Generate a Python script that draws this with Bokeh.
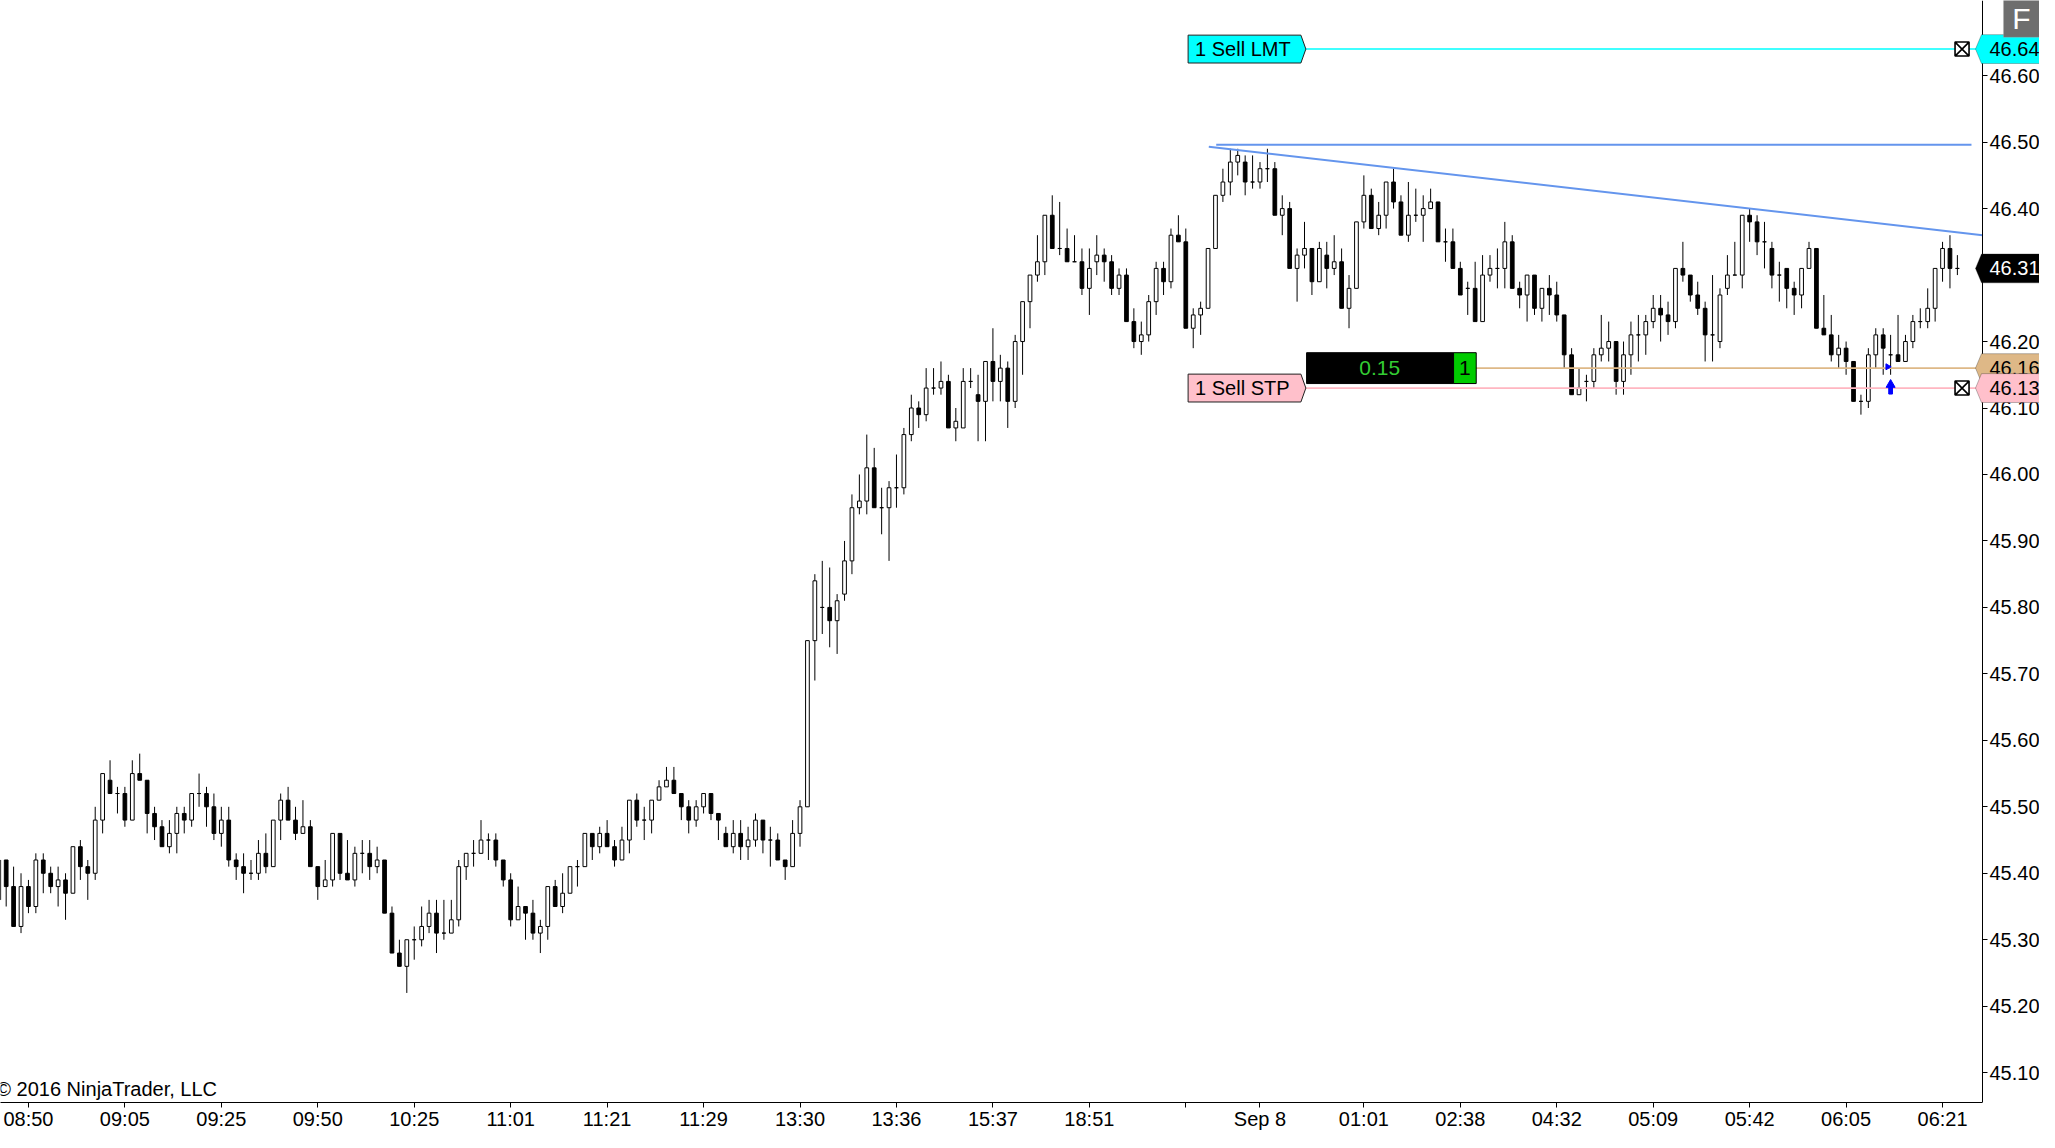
import math
from bokeh.plotting import figure
from bokeh.models import (Range1d, LinearAxis, FixedTicker, NumeralTickFormatter,
                          PolyAnnotation, Label, ColumnDataSource)
from bokeh.embed import file_html
from bokeh.resources import INLINE
from bokeh.core.properties import value

# ---------------- data ----------------
opens = [45.36,45.42,45.38,45.32,45.38,45.35,45.42,45.40,45.38,45.39,45.37,45.44,45.41,45.40,45.48,45.54,45.52,45.52,45.48,45.55,
         45.54,45.49,45.47,45.44,45.46,45.49,45.48,45.52,45.52,45.50,45.46,45.48,45.42,45.41,45.40,45.40,45.43,45.41,45.48,45.51,
         45.48,45.46,45.47,45.41,45.38,45.39,45.46,45.40,45.39,45.43,45.43,45.41,45.42,45.34,45.28,45.26,45.30,45.30,45.32,45.34,
         45.31,45.31,45.33,45.41,45.43,45.43,45.45,45.45,45.42,45.39,45.33,45.35,45.34,45.31,45.32,45.38,45.35,45.37,45.41,45.41,
         45.46,45.44,45.46,45.44,45.42,45.45,45.51,45.48,45.48,45.51,45.53,45.54,45.52,45.50,45.48,45.50,45.52,45.49,45.46,45.44,
         45.46,45.44,45.45,45.48,45.45,45.45,45.42,45.41,45.46,45.50,45.75,45.80,45.80,45.78,45.82,45.87,45.95,45.96,46.01,45.95,
         45.95,45.98,45.98,46.06,46.10,46.09,46.13,46.13,46.14,46.07,46.07,46.14,46.12,46.11,46.17,46.14,46.16,46.11,46.20,46.26,
         46.30,46.32,46.39,46.34,46.34,46.32,46.32,46.28,46.32,46.33,46.32,46.28,46.30,46.23,46.20,46.21,46.26,46.31,46.29,46.36,
         46.35,46.22,46.24,46.25,46.34,46.42,46.44,46.47,46.47,46.44,46.44,46.46,46.46,46.39,46.40,46.31,46.33,46.34,46.29,46.33,
         46.31,46.32,46.25,46.28,46.38,46.42,46.37,46.39,46.44,46.41,46.36,46.39,46.39,46.40,46.41,46.35,46.35,46.31,46.28,46.28,
         46.23,46.30,46.31,46.31,46.35,46.28,46.27,46.30,46.25,46.28,46.27,46.24,46.18,46.12,46.14,46.14,46.18,46.19,46.20,46.14,
         46.18,46.21,46.21,46.23,46.25,46.24,46.23,46.31,46.30,46.27,46.25,46.21,46.20,46.28,46.30,46.30,46.39,46.38,46.35,46.34,
         46.30,46.31,46.28,46.27,46.31,46.34,46.22,46.21,46.18,46.19,46.17,46.11,46.11,46.18,46.21,46.18,46.18,46.17,46.20,46.23,
         46.23,46.25,46.31,46.34,46.31]
highs = [45.43,45.42,45.41,45.40,45.39,45.43,45.43,45.41,45.41,45.40,45.44,45.45,45.42,45.50,45.55,45.57,45.53,45.53,45.57,45.58,
         45.54,45.50,45.48,45.48,45.50,45.50,45.52,45.55,45.53,45.52,45.50,45.50,45.43,45.43,45.42,45.45,45.46,45.48,45.52,45.53,
         45.50,45.51,45.48,45.41,45.42,45.46,45.46,45.45,45.44,45.45,45.45,45.44,45.42,45.35,45.30,45.30,45.32,45.35,45.36,45.36,
         45.36,45.36,45.42,45.43,45.45,45.48,45.46,45.46,45.42,45.40,45.38,45.35,45.36,45.33,45.38,45.39,45.40,45.41,45.42,45.46,
         45.46,45.47,45.48,45.45,45.47,45.51,45.52,45.50,45.51,45.54,45.56,45.56,45.52,45.51,45.51,45.52,45.52,45.49,45.47,45.48,
         45.48,45.47,45.49,45.48,45.47,45.46,45.42,45.48,45.51,45.75,45.85,45.87,45.86,45.82,45.90,45.97,46.00,46.06,46.04,45.98,
         45.99,46.03,46.07,46.12,46.11,46.16,46.16,46.17,46.15,46.10,46.16,46.16,46.15,46.17,46.22,46.18,46.17,46.21,46.26,46.30,
         46.36,46.39,46.42,46.41,46.37,46.36,46.34,46.34,46.36,46.34,46.33,46.31,46.31,46.25,46.23,46.27,46.32,46.32,46.37,46.39,
         46.37,46.25,46.26,46.34,46.42,46.46,46.49,46.49,46.48,46.48,46.47,46.49,46.47,46.42,46.41,46.34,46.38,46.34,46.35,46.35,
         46.36,46.34,46.30,46.38,46.45,46.43,46.41,46.44,46.46,46.42,46.44,46.43,46.42,46.43,46.41,46.37,46.37,46.32,46.29,46.32,
         46.33,46.33,46.34,46.38,46.36,46.29,46.30,46.30,46.28,46.30,46.29,46.24,46.19,46.16,46.15,46.19,46.24,46.23,46.20,46.20,
         46.23,46.24,46.24,46.27,46.27,46.26,46.31,46.35,46.30,46.29,46.26,46.30,46.28,46.33,46.35,46.39,46.40,46.39,46.38,46.35,
         46.32,46.31,46.29,46.31,46.35,46.34,46.27,46.24,46.21,46.20,46.17,46.12,46.19,46.22,46.22,46.21,46.24,46.21,46.24,46.25,
         46.28,46.31,46.35,46.36,46.33]
lows = [45.35,45.35,45.32,45.31,45.34,45.34,45.37,45.37,45.35,45.33,45.37,45.39,45.36,45.39,45.46,45.52,45.49,45.47,45.48,45.54,
        45.46,45.45,45.44,45.43,45.43,45.46,45.47,45.50,45.47,45.45,45.44,45.41,45.39,45.37,45.39,45.39,45.40,45.41,45.45,45.48,
        45.45,45.46,45.41,45.36,45.38,45.38,45.39,45.39,45.38,45.40,45.39,45.40,45.34,45.28,45.26,45.22,45.27,45.29,45.31,45.28,
        45.30,45.31,45.32,45.39,45.41,45.43,45.42,45.41,45.38,45.32,45.33,45.30,45.30,45.28,45.30,45.35,45.34,45.37,45.38,45.41,
        45.42,45.43,45.44,45.41,45.42,45.43,45.47,45.45,45.46,45.51,45.53,45.52,45.48,45.46,45.47,45.49,45.48,45.45,45.44,45.43,
        45.42,45.42,45.44,45.43,45.41,45.42,45.39,45.41,45.44,45.50,45.69,45.76,45.74,45.73,45.81,45.85,45.94,45.94,45.95,45.91,
        45.87,45.95,45.97,46.05,46.07,46.08,46.12,46.12,46.07,46.05,46.07,46.13,46.05,46.05,46.11,46.11,46.07,46.10,46.15,46.22,
        46.29,46.30,46.34,46.33,46.32,46.32,46.27,46.24,46.30,46.29,46.27,46.27,46.23,46.19,46.18,46.20,46.24,46.27,46.28,46.35,
        46.22,46.19,46.21,46.25,46.34,46.41,46.42,46.45,46.42,46.43,46.43,46.44,46.39,46.36,46.31,46.26,46.31,46.27,46.29,46.28,
        46.30,46.25,46.22,46.28,46.37,46.37,46.36,46.37,46.40,46.36,46.35,46.38,46.35,46.40,46.35,46.32,46.31,46.27,46.24,46.23,
        46.23,46.29,46.28,46.28,46.28,46.25,46.23,46.24,46.23,46.24,46.23,46.16,46.12,46.12,46.11,46.13,46.17,46.17,46.12,46.12,
        46.15,46.17,46.18,46.22,46.20,46.21,46.22,46.29,46.26,46.24,46.17,46.17,46.19,46.27,46.30,46.28,46.35,46.33,46.31,46.28,
        46.26,46.25,46.24,46.25,46.31,46.22,46.21,46.17,46.16,46.15,46.11,46.09,46.10,46.16,46.15,46.15,46.17,46.17,46.19,46.22,
        46.22,46.23,46.29,46.28,46.30]
closes = [45.42,45.38,45.32,45.38,45.35,45.42,45.40,45.38,45.39,45.37,45.44,45.41,45.40,45.48,45.55,45.52,45.52,45.48,45.55,45.54,
          45.49,45.47,45.44,45.46,45.49,45.48,45.52,45.52,45.50,45.46,45.48,45.42,45.41,45.40,45.40,45.43,45.41,45.48,45.51,45.48,
          45.46,45.47,45.41,45.38,45.39,45.46,45.40,45.39,45.43,45.43,45.41,45.42,45.34,45.28,45.26,45.30,45.30,45.32,45.34,45.31,
          45.31,45.33,45.41,45.43,45.43,45.45,45.45,45.42,45.39,45.33,45.35,45.34,45.31,45.32,45.38,45.35,45.37,45.41,45.41,45.46,
          45.44,45.46,45.44,45.42,45.45,45.51,45.48,45.48,45.51,45.53,45.54,45.52,45.50,45.48,45.50,45.52,45.49,45.48,45.44,45.46,
          45.44,45.45,45.48,45.45,45.45,45.42,45.41,45.46,45.50,45.75,45.84,45.80,45.78,45.81,45.87,45.95,45.96,46.01,45.95,45.95,
          45.98,45.98,46.06,46.10,46.09,46.13,46.13,46.14,46.07,46.08,46.14,46.14,46.11,46.17,46.14,46.16,46.11,46.20,46.26,46.30,
          46.32,46.39,46.34,46.34,46.32,46.32,46.28,46.31,46.33,46.32,46.28,46.30,46.23,46.20,46.21,46.26,46.31,46.29,46.36,46.35,
          46.22,46.24,46.25,46.34,46.42,46.44,46.47,46.48,46.44,46.44,46.46,46.46,46.39,46.40,46.31,46.33,46.34,46.29,46.34,46.31,
          46.32,46.25,46.28,46.38,46.42,46.37,46.39,46.44,46.41,46.36,46.39,46.39,46.40,46.41,46.35,46.35,46.31,46.27,46.28,46.23,
          46.30,46.31,46.31,46.35,46.28,46.27,46.30,46.25,46.28,46.27,46.24,46.18,46.12,46.13,46.14,46.18,46.19,46.20,46.14,46.18,
          46.21,46.21,46.23,46.25,46.24,46.23,46.31,46.30,46.27,46.25,46.21,46.21,46.27,46.30,46.30,46.39,46.38,46.35,46.35,46.30,
          46.30,46.28,46.27,46.31,46.34,46.22,46.21,46.18,46.19,46.17,46.11,46.11,46.18,46.21,46.19,46.18,46.17,46.20,46.23,46.23,
          46.25,46.31,46.34,46.31,46.31]

time_tick_bars = [4, 17, 30, 43, 56, 69, 82, 95, 108, 121, 134, 147, 160, 170, 184, 197, 210, 223, 236, 249, 262]
time_tick_labels = ["08:50", "09:05", "09:25", "09:50", "10:25", "11:01", "11:21", "11:29", "13:30", "13:36",
                    "15:37", "18:51", "", "Sep 8", "01:01", "02:38", "04:32", "05:09", "05:42", "06:05", "06:21"]
price_ticks = [45.10, 45.20, 45.30, 45.40, 45.50, 45.60, 45.70, 45.80, 45.90, 46.00,
               46.10, 46.20, 46.30, 46.40, 46.50, 46.60]

limit_price = 46.64          # 1 Sell LMT
stop_price = 46.13           # 1 Sell STP
position_price = 46.16       # average entry
position_pnl = "0.15"
position_qty = "1"
exec_bar = 255
hline_bars = [164.1, 265.9]
hline_prices = [46.496, 46.496]
trend_bars = [163.1, 267.4]
trend_prices = [46.493, 46.360]

# ---------------- geometry helpers (reference pixels -> data) ----------------
BAR0_PX, BAR_PX = -1.74, 7.434
P0, P0_PX, PX_PER_UNIT = 46.60, 75.5, 667.7
W, H = 2039, 1132
AXIS_PX = 1986.0            # price axis position in reference pixels
AXIS_CANVAS = 1982.0        # where it lands on our (slightly narrower) canvas
def bx(px):
    return (px - BAR0_PX) / BAR_PX
def py(px):
    return P0 - (px - P0_PX) / PX_PER_UNIT
def dh(px):
    return px / PX_PER_UNIT

FONT = "Liberation Sans"

n = len(closes)
idx = list(range(n))
up = [c >= o for o, c in zip(opens, closes)]
src = ColumnDataSource(dict(
    x=idx, o=opens, h=highs, l=lows, c=closes,
    top=[max(o, c) for o, c in zip(opens, closes)],
    bot=[min(o, c) for o, c in zip(opens, closes)],
    fill=["white" if u else "black" for u in up],
))

x0 = bx(0)
x_axis_bar = bx(AXIS_PX)
x1 = x0 + (x_axis_bar - x0) * W / AXIS_CANVAS

p = figure(width=W, height=H, output_backend="svg", toolbar_location=None,
           x_range=Range1d(x0, x1), y_range=Range1d(py(1107), py(0)),
           x_axis_type=None, y_axis_type=None)
p.min_border_left = 0
p.min_border_top = 0
p.min_border_right = 0
p.min_border_bottom = 0
p.outline_line_color = None
p.background_fill_color = "white"
p.border_fill_color = "white"

yax = LinearAxis(ticker=FixedTicker(ticks=price_ticks), formatter=NumeralTickFormatter(format="0.00"),
                 fixed_location=x_axis_bar)
yax.major_tick_out = 5
yax.major_tick_in = 0
yax.minor_tick_out = 0
yax.minor_tick_in = 0
yax.major_label_standoff = 2
yax.axis_line_color = "black"
yax.major_tick_line_color = "black"
yax.major_label_text_font = FONT
yax.major_label_text_font_size = "20px"
yax.major_label_text_color = "black"
p.add_layout(yax, "right")

xax = LinearAxis(ticker=FixedTicker(ticks=time_tick_bars),
                 major_label_overrides={b: t for b, t in zip(time_tick_bars, time_tick_labels)},
                 bounds=(x0, x_axis_bar))
xax.major_tick_out = 5
xax.major_tick_in = 0
xax.minor_tick_out = 0
xax.minor_tick_in = 0
xax.major_label_standoff = 0
xax.axis_line_color = "black"
xax.major_tick_line_color = "black"
xax.major_label_text_font = FONT
xax.major_label_text_font_size = "20px"
xax.major_label_text_color = "black"
p.add_layout(xax, "below")

# candles
p.segment(x0="x", y0="l", x1="x", y1="h", source=src, line_color="black", line_width=1)
p.vbar(x="x", width=0.5, top="top", bottom="bot", source=src,
       fill_color="fill", line_color="black", line_width=1)

# drawing objects
p.line(hline_bars, hline_prices, line_color="#6495ED", line_width=2)
p.line(trend_bars, trend_prices, line_color="#6495ED", line_width=2)

xend = x_axis_bar
p.segment(x0=[bx(1308)], y0=[limit_price], x1=[xend], y1=[limit_price], line_color="#00FFFF", line_width=1.6)
p.segment(x0=[bx(1308)], y0=[stop_price], x1=[xend], y1=[stop_price], line_color="#FFB6C1", line_width=1.8)
p.segment(x0=[bx(1478)], y0=[position_price], x1=[xend], y1=[position_price], line_color="#DEB887", line_width=1.8)

# order labels
hh = dh(14)
for price, label, fill in [(limit_price, "1 Sell LMT", "#00FFFF"), (stop_price, "1 Sell STP", "#FFC0CB")]:
    p.patch([bx(1190), bx(1303), bx(1308), bx(1303), bx(1190)],
            [price + hh, price + hh, price, price - hh, price - hh],
            fill_color=fill, line_color="#202020", line_width=1)
    p.text(x=[bx(1197)], y=[price], text=[label], text_font=value(FONT), text_font_size=value("20px"),
           text_baseline="middle", text_align="left", text_color="black")

# position box
ph = dh(15.5)
p.quad(left=[bx(1308.7)], right=[bx(1456)], bottom=[position_price - ph], top=[position_price + ph],
       fill_color="black", line_color="black")
p.quad(left=[bx(1456)], right=[bx(1478.7)], bottom=[position_price - ph], top=[position_price + ph],
       fill_color="#00CC00", line_color="black")
p.text(x=[bx(1382)], y=[position_price], text=[position_pnl], text_font=value(FONT), text_font_size=value("21px"),
       text_baseline="middle", text_align="center", text_color="#33CC33")
p.text(x=[bx(1467.3)], y=[position_price], text=[position_qty], text_font=value(FONT), text_font_size=value("21px"),
       text_baseline="middle", text_align="center", text_color="black")

# close boxes
p.scatter(x=[bx(1965.5), bx(1965.5)], y=[limit_price, stop_price], marker="square_x", size=14,
          fill_color="white", line_color="black", line_width=1.6)

# execution markers
p.vbar(x=[exec_bar], width=0.5, bottom=[position_price - 0.039], top=[position_price - 0.027], color="#0000FF")
p.scatter(x=[exec_bar], y=[position_price - 0.025], marker="triangle", size=9, color="#0000FF")
p.scatter(x=[bx(1891)], y=[position_price + 0.002], marker="triangle", angle=-math.pi / 2, size=6, color="#0000FF")

# copyright
p.add_layout(Label(x=bx(217), y=py(1093), text="\u00a9 2016 NinjaTrader, LLC", text_align="right",
                   text_baseline="alphabetic", text_font=FONT, text_font_size="20px", text_color="black"))

# price tags on the axis
th = dh(14.5)
last_price = closes[-1]
for price, fill, tcol in [(limit_price, "#00FFFF", "black"), (last_price, "black", "white"),
                          (position_price, "#DEB887", "black"), (stop_price, "#FFC0CB", "black")]:
    p.add_layout(PolyAnnotation(xs=[bx(1979), bx(1985), bx(2080), bx(2080), bx(1985)],
                                ys=[price, price + th, price + th, price - th, price - th],
                                xs_units="data", ys_units="data",
                                fill_color=fill, fill_alpha=1.0, line_color="#202020", line_width=1))
    p.add_layout(Label(x=bx(1993), y=price, text=f"{price:.2f}", text_align="left", text_baseline="middle",
                       text_font=FONT, text_font_size="20px", text_color=tcol))

# "F" box (anchored to the right edge)
p.add_layout(PolyAnnotation(xs=[bx(2007), bx(2080), bx(2080), bx(2007)], ys=[py(-10), py(-10), py(37), py(37)],
                            xs_units="data", ys_units="data", fill_color="#6E6E6E", fill_alpha=1.0,
                            line_color="#BBBBBB", line_width=1))
p.add_layout(Label(x=bx(2025), y=py(18), text="F", text_align="center", text_baseline="middle",
                   text_font=FONT, text_font_size="30px", text_color="white"))

open("out.html", "w").write(file_html(p, INLINE))
